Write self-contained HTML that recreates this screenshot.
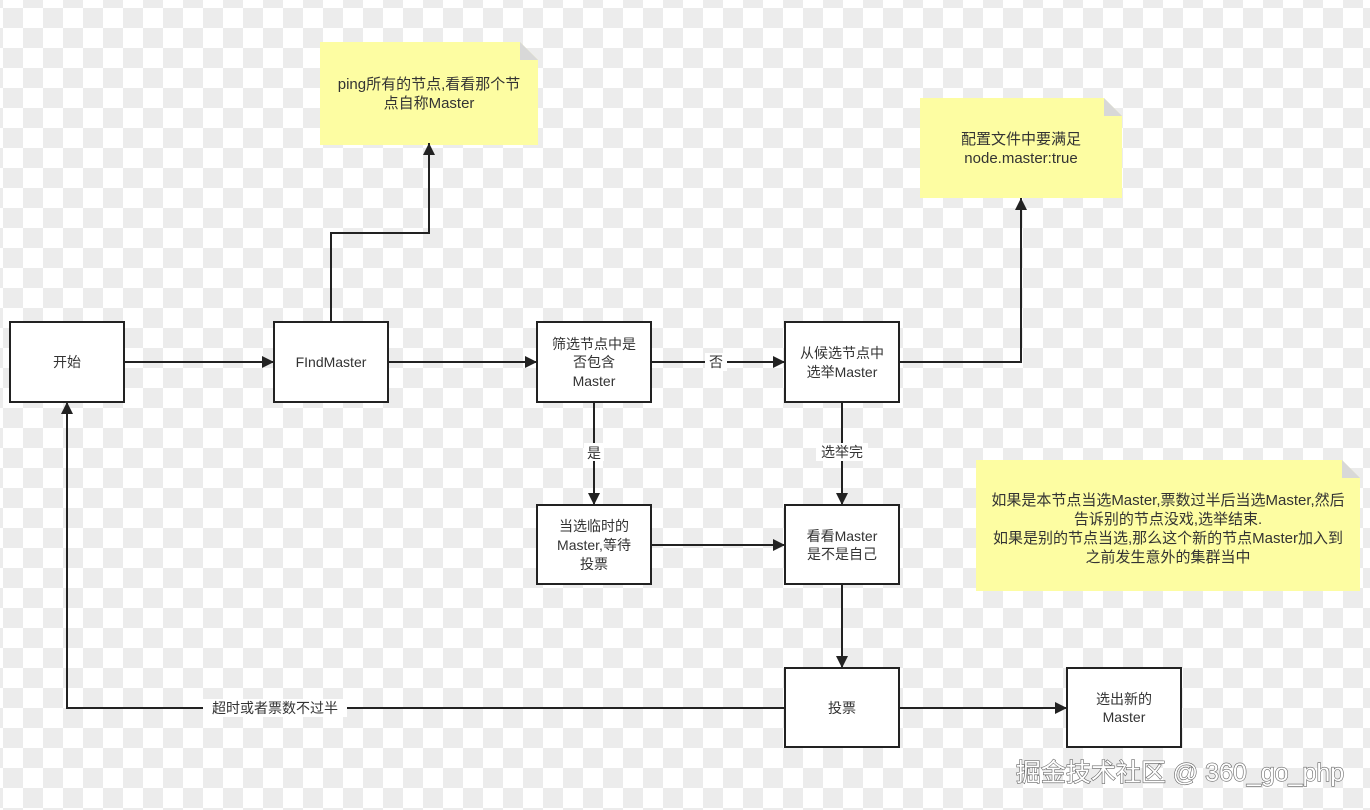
<!DOCTYPE html>
<html><head><meta charset="utf-8"><style>
html,body{margin:0;padding:0;width:1370px;height:810px;overflow:hidden;background:#fff}
svg{display:block}
text{font-family:"Liberation Sans","Noto Sans CJK SC",sans-serif;font-size:14px;fill:#333;text-anchor:middle}
.n{font-size:15px}
</style></head><body>
<svg width="1370" height="810" viewBox="0 0 1370 810" xmlns="http://www.w3.org/2000/svg">
<defs>
<pattern id="chk" x="3" y="8" width="40" height="40" patternUnits="userSpaceOnUse">
<rect width="40" height="40" fill="#fff"/>
<rect width="20" height="20" fill="#ececec"/>
<rect x="20" y="20" width="20" height="20" fill="#ececec"/>
</pattern>
<marker id="a" viewBox="0 0 12 12" refX="12" refY="6" markerWidth="12" markerHeight="12" markerUnits="userSpaceOnUse" orient="auto">
<path d="M0,0 L12,6 L0,12 z" fill="#222"/>
</marker>
</defs>
<rect width="1370" height="810" fill="url(#chk)"/>

<g>
<path d="M320,42 H520 L538,60 V145 H320 Z" fill="#fdfda2"/>
<path d="M520,42 L538,60 H520 Z" fill="#d8d8d8"/>
<text class="n" x="429" y="89">ping所有的节点,看看那个节</text>
<text class="n" x="429" y="108">点自称Master</text>
</g>
<g>
<path d="M920,98 H1104 L1122,116 V198 H920 Z" fill="#fdfda2"/>
<path d="M1104,98 L1122,116 H1104 Z" fill="#d8d8d8"/>
<text class="n" x="1021" y="144">配置文件中要满足</text>
<text class="n" x="1021" y="163">node.master:true</text>
</g>
<g>
<path d="M976,460 H1342 L1360,478 V591 H976 Z" fill="#fdfda2"/>
<path d="M1342,460 L1360,478 H1342 Z" fill="#d8d8d8"/>
<text class="n" x="1168" y="505">如果是本节点当选Master,票数过半后当选Master,然后</text>
<text class="n" x="1168" y="524">告诉别的节点没戏,选举结束.</text>
<text class="n" x="1168" y="543">如果是别的节点当选,那么这个新的节点Master加入到</text>
<text class="n" x="1168" y="562">之前发生意外的集群当中</text>
</g>

<g stroke="#222" stroke-width="2" fill="none" marker-end="url(#a)">
<path d="M124,362 H274"/>
<path d="M388,362 H537"/>
<path d="M651,362 H785"/>
<path d="M331,322 V233 H429 V143"/>
<path d="M899,362 H1021 V198"/>
<path d="M594,402 V505"/>
<path d="M842,402 V505"/>
<path d="M651,545 H785"/>
<path d="M842,584 V668"/>
<path d="M899,708 H1067"/>
<path d="M785,708 H67 V402"/>
</g>
<rect x="705" y="353" width="22" height="18" fill="#fff"/>
<text x="716" y="367">否</text>
<rect x="584" y="443" width="20" height="18" fill="#fff"/>
<text x="594" y="458">是</text>
<rect x="816" y="443" width="52" height="18" fill="#fff"/>
<text x="842" y="457">选举完</text>
<rect x="203" y="699" width="144" height="18" fill="#fff"/>
<text x="275" y="713">超时或者票数不过半</text>

<g fill="#fff" stroke="#222" stroke-width="2">
<rect x="10" y="322" width="114" height="80"/>
<rect x="274" y="322" width="114" height="80"/>
<rect x="537" y="322" width="114" height="80"/>
<rect x="785" y="322" width="114" height="80"/>
<rect x="537" y="505" width="114" height="79"/>
<rect x="785" y="505" width="114" height="79"/>
<rect x="785" y="668" width="114" height="79"/>
<rect x="1067" y="668" width="114" height="79"/>
</g>
<text x="67" y="367">开始</text>
<text x="331" y="367">FIndMaster</text>
<text x="594" y="349">筛选节点中是</text>
<text x="594" y="367">否包含</text>
<text x="594" y="386">Master</text>
<text x="842" y="358">从候选节点中</text>
<text x="842" y="377">选举Master</text>
<text x="594" y="531">当选临时的</text>
<text x="594" y="550">Master,等待</text>
<text x="594" y="569">投票</text>
<text x="842" y="541">看看Master</text>
<text x="842" y="559">是不是自己</text>
<text x="842" y="713">投票</text>
<text x="1124" y="704">选出新的</text>
<text x="1124" y="722">Master</text>

<text x="1180" y="781" style="font-size:25px;fill:#fff;stroke:#666;stroke-width:1.2px;paint-order:stroke">掘金技术社区 @ 360_go_php</text>
</svg>
</body></html>
